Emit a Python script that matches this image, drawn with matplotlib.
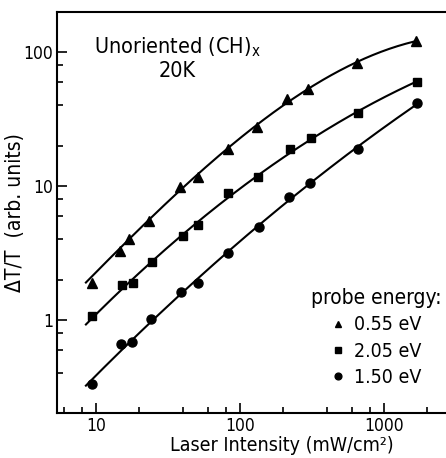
import numpy as np
import matplotlib
matplotlib.use('Agg')
import matplotlib.pyplot as plt
from matplotlib.ticker import LogLocator, FixedLocator, NullFormatter

plt.rcParams['font.family'] = ['DejaVu Sans']
plt.rcParams['font.stretch'] = 'condensed'

# 数据: 激光强度 (mW/cm2) 与 ΔT/T (arb. units)
x_055 = [9.3, 14.7, 16.9, 23.3, 38.3, 50.8, 82, 131, 213, 298, 646, 1668]
y_055 = [1.88, 3.29, 4.0, 5.5, 9.9, 11.7, 18.8, 27.7, 44.6, 52.6, 82.4, 121]

x_205 = [9.4, 15.2, 18.2, 24.6, 40, 51.3, 83, 134, 222, 310, 663, 1700]
y_205 = [1.07, 1.83, 1.88, 2.69, 4.24, 5.12, 8.83, 11.6, 18.8, 22.9, 34.9, 60]

x_150 = [9.4, 14.8, 17.7, 24.1, 38.7, 51, 83, 135, 220, 306, 663, 1687]
y_150 = [0.331, 0.659, 0.689, 1.01, 1.63, 1.90, 3.15, 4.97, 8.24, 10.6, 18.9, 41.4]

# (x, y, 标记, 标签, 大小, 拟合起点索引, 拟合阶数)
series = [
    (x_055, y_055, '^', '0.55 eV', 6.5, 2, 3),
    (x_205, y_205, 's', '2.05 eV', 5.5, 0, 2),
    (x_150, y_150, 'o', '1.50 eV', 6.5, 0, 2),
]

fig = plt.figure(figsize=(4.46, 4.58), dpi=100)
ax = fig.add_axes([0.128, 0.098, 0.872, 0.876])

for xs, ys, mk, lab, ms, i0, deg in series:
    lx, ly = np.log10(xs), np.log10(ys)
    # 拟合曲线 (log-log 多项式)
    c = np.polyfit(lx[i0:], ly[i0:], deg)
    xx = np.linspace(np.log10(8.5), lx[-1], 200)
    ax.plot(10 ** xx, 10 ** np.polyval(c, xx), color='black', lw=1.5)
    ax.plot(xs, ys, linestyle='none', marker=mk, color='black',
            markersize=ms, label=lab)

ax.set_xscale('log')
ax.set_yscale('log')
ax.set_xlim(5.36, 2700)
ax.set_ylim(0.202, 199)

ax.xaxis.set_major_locator(FixedLocator([10, 100, 1000]))
ax.yaxis.set_major_locator(FixedLocator([1, 10, 100]))
ax.xaxis.set_minor_locator(LogLocator(base=10, subs=(2, 4, 6, 8)))
ax.yaxis.set_minor_locator(LogLocator(base=10, subs=(2, 4, 6, 8)))
ax.xaxis.set_minor_formatter(NullFormatter())
ax.yaxis.set_minor_formatter(NullFormatter())
ax.set_xticklabels(['10', '100', '1000'])
ax.set_yticklabels(['1', '10', '100'])

ax.tick_params(which='both', direction='in', width=1.2, labelsize=12.5,
               top=False, right=False)
ax.tick_params(which='major', length=7)
ax.tick_params(which='minor', length=4)
ax.tick_params(axis='y', pad=3)
ax.tick_params(axis='x', pad=2.5)

for s in ['left', 'bottom', 'top']:
    ax.spines[s].set_linewidth(1.5)
ax.spines['right'].set_visible(False)

ax.set_xlabel('Laser Intensity (mW/cm²)', fontsize=14)
ax.xaxis.set_label_coords(0.578, -0.058)
ax.set_ylabel('ΔT/T  (arb. units)', fontsize=15)
ax.yaxis.set_label_coords(-0.082, 0.5)

ax.text(0.308, 0.913, 'Unoriented (CH)$_{\\mathregular{x}}$', transform=ax.transAxes,
        ha='center', va='center', fontsize=15.5)
ax.text(0.308, 0.852, '20K', transform=ax.transAxes,
        ha='center', va='center', fontsize=15.5)

leg = ax.legend(title='probe energy:', frameon=False, fontsize=14,
                title_fontsize=15, markerscale=0.75, handlelength=0.8,
                handletextpad=0.4, labelspacing=0.38, borderpad=0.2,
                loc='center', bbox_to_anchor=(0.82, 0.188))

fig.savefig('out.png', dpi=100)
